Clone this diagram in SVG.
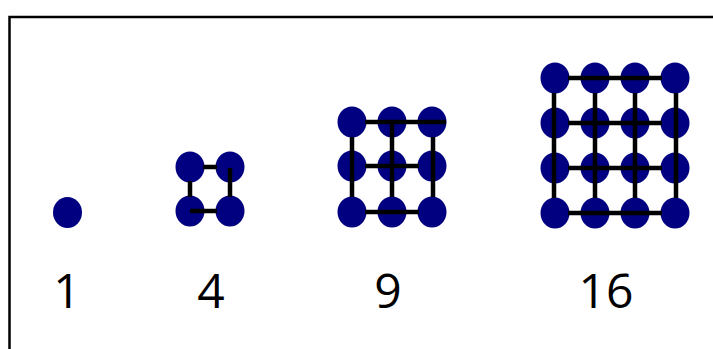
<svg xmlns="http://www.w3.org/2000/svg" width="713" height="349" viewBox="0 0 713 349">
<style>
.dot{fill:#000080;}
.ln{stroke:#000;stroke-width:4.5;fill:none;}
.lbl{font-family:"Open Sans","Liberation Sans",sans-serif;font-size:48px;fill:#000;text-anchor:middle;}
.frame{fill:none;stroke:#000;stroke-width:2.5;}
</style>
<defs>
<ellipse id="d" rx="14.5" ry="15.5" class="dot"/>
</defs>
<rect class="frame" x="9.5" y="17" width="720" height="350"/>
<g id="n1">
<use href="#d" x="67.5" y="212.5"/>
<text class="lbl" x="67" y="308">1</text>
</g>
<g id="n4">
<use href="#d" x="190" y="167"/><use href="#d" x="230" y="167"/>
<use href="#d" x="190" y="211"/><use href="#d" x="230" y="211"/>
<text class="lbl" x="211" y="308">4</text>
</g>
<g id="n9">
<use href="#d" x="352" y="122"/><use href="#d" x="392" y="122"/><use href="#d" x="432" y="122"/>
<use href="#d" x="352" y="166"/><use href="#d" x="392" y="166"/><use href="#d" x="432" y="166"/>
<use href="#d" x="352" y="212"/><use href="#d" x="392" y="212"/><use href="#d" x="432" y="212"/>
<text class="lbl" x="388" y="308">9</text>
</g>
<g id="n16">
<use href="#d" x="555" y="78"/><use href="#d" x="595" y="78"/><use href="#d" x="635" y="78"/><use href="#d" x="675" y="78"/>
<use href="#d" x="555" y="123"/><use href="#d" x="595" y="123"/><use href="#d" x="635" y="123"/><use href="#d" x="675" y="123"/>
<use href="#d" x="555" y="168"/><use href="#d" x="595" y="168"/><use href="#d" x="635" y="168"/><use href="#d" x="675" y="168"/>
<use href="#d" x="555" y="213"/><use href="#d" x="595" y="213"/><use href="#d" x="635" y="213"/><use href="#d" x="675" y="213"/>
<text class="lbl" x="606" y="308">16</text>
</g>
<g id="connectors">
<path class="ln" d="M203 167 H217 M190 181 V197 M230 168 V197 M190 211 H217"/>
<path class="ln" d="M365 122 H446 M365 166 H419 M365 212 H419 M352 137 V197 M392 123 V197 M433 137 V197"/>
<path class="ln" d="M568 78 H662 M568 123 H662 M568 168 H662 M568 213 H662 M554 93 V198 M595 93 V198 M635 93 V198 M676 93 V198"/>
</g>
</svg>
